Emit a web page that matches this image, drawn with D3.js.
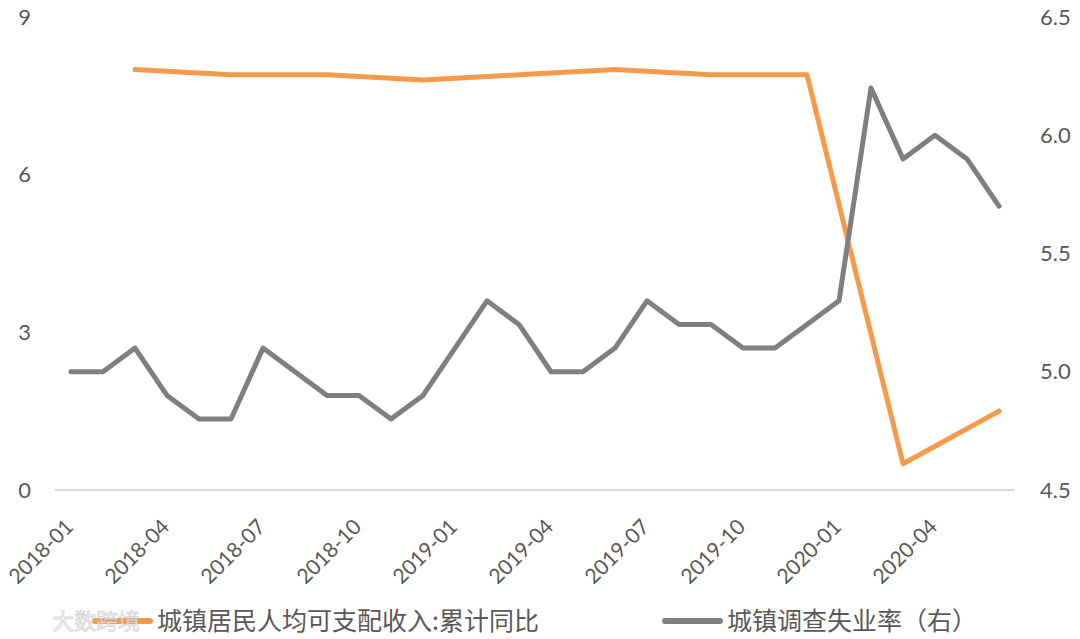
<!DOCTYPE html>
<html>
<head>
<meta charset="utf-8">
<title>城镇居民收入与失业率</title>
<style>
  body { margin: 0; background: #fff; }
  text { font-family: Lato, "Noto Sans CJK SC", sans-serif; fill: #595959; }
  .line { fill: none; stroke-width: 5; stroke-linejoin: round; stroke-linecap: round; }
</style>
<script src="https://d3js.org/d3.v7.min.js"></script>
</head>
<body>
<div id="chart"></div>
<script>
// months 2018-01 .. 2020-06
var months = [
  "2018-01","2018-02","2018-03","2018-04","2018-05","2018-06",
  "2018-07","2018-08","2018-09","2018-10","2018-11","2018-12",
  "2019-01","2019-02","2019-03","2019-04","2019-05","2019-06",
  "2019-07","2019-08","2019-09","2019-10","2019-11","2019-12",
  "2020-01","2020-02","2020-03","2020-04","2020-05","2020-06"
];

// 城镇居民人均可支配收入:累计同比 (quarterly)
var incomeMonths = ["2018-03","2018-06","2018-09","2018-12","2019-03","2019-06","2019-09","2019-12","2020-03","2020-06"];
var incomeValues = [8.0, 7.9, 7.9, 7.8, 7.9, 8.0, 7.9, 7.9, 0.5, 1.5];

// 城镇调查失业率 (right axis)
var unemployment = [
  5.0, 5.0, 5.1, 4.9, 4.8, 4.8,
  5.1, 5.0, 4.9, 4.9, 4.8, 4.9,
  5.1, 5.3, 5.2, 5.0, 5.0, 5.1,
  5.3, 5.2, 5.2, 5.1, 5.1, 5.2,
  5.3, 6.2, 5.9, 6.0, 5.9, 5.7
];

var leftTicks = [0, 3, 6, 9];
var rightTicks = [4.5, 5.0, 5.5, 6.0, 6.5];
var xTickLabels = ["2018-01","2018-04","2018-07","2018-10","2019-01","2019-04","2019-07","2019-10","2020-01","2020-04"];

var seriesNames = ["城镇居民人均可支配收入:累计同比", "城镇调查失业率（右）"];
var colors = ["#f59a4b", "#7f7f7f"];

var width = 1080, height = 639;

var svg = d3.select("#chart").append("svg")
  .attr("width", width)
  .attr("height", height);

var x = d3.scaleBand().domain(months).range([55, 1015]);
var yL = d3.scaleLinear().domain([0, 9]).range([490, 17]);
var yR = d3.scaleLinear().domain([4.5, 6.5]).range([490, 17]);

function cx(m) { return x(m) + x.bandwidth() / 2; }

// baseline axis
svg.append("line")
  .attr("x1", x.range()[0]).attr("x2", x.range()[1])
  .attr("y1", yL(0)).attr("y2", yL(0))
  .attr("stroke", "#d9d9d9").attr("stroke-width", 2);

// left axis labels
var leftAxis = d3.axisLeft(yL).tickValues(leftTicks).tickSize(0).tickPadding(0);
svg.append("g")
  .attr("transform", "translate(31,0)")
  .call(leftAxis)
  .call(function(g) { g.select(".domain").remove(); })
  .selectAll("text")
  .style("font-size", "22px")
  .attr("font-family", null);

// right axis labels
var rightAxis = d3.axisRight(yR).tickValues(rightTicks).tickSize(0).tickPadding(0)
  .tickFormat(d3.format(".1f"));
svg.append("g")
  .attr("transform", "translate(1040,0)")
  .call(rightAxis)
  .call(function(g) { g.select(".domain").remove(); })
  .selectAll("text")
  .style("font-size", "22px")
  .attr("font-family", null);

// x axis labels, rotated
var xAxis = d3.axisBottom(x).tickValues(xTickLabels).tickSize(0).tickPadding(0);
svg.append("g")
  .attr("transform", "translate(0," + (yL(0) + 27) + ")")
  .call(xAxis)
  .call(function(g) { g.select(".domain").remove(); })
  .selectAll("text")
  .style("font-size", "21px")
  .attr("font-family", null)
  .style("text-anchor", "end")
  .attr("dx", "-0.25em")
  .attr("dy", "0.5em")
  .attr("transform", "rotate(-45)");

// income line
var incomeData = incomeMonths.map(function(m, i) { return { m: m, v: incomeValues[i] }; });
var incomeLine = d3.line()
  .x(function(d) { return cx(d.m); })
  .y(function(d) { return yL(d.v); });

svg.append("path")
  .datum(incomeData)
  .attr("class", "line")
  .attr("stroke", colors[0])
  .attr("d", incomeLine);

// unemployment line
var unempLine = d3.line()
  .x(function(d, i) { return cx(months[i]); })
  .y(function(d) { return yR(d); });

svg.append("path")
  .datum(unemployment)
  .attr("class", "line")
  .attr("stroke", colors[1])
  .attr("d", unempLine);

// legend
var legendY = 621;
var legendX = [95, 665];
var legend = svg.selectAll(".legend")
  .data(seriesNames)
  .enter().append("g")
  .attr("class", "legend")
  .attr("transform", function(d, i) { return "translate(" + legendX[i] + "," + legendY + ")"; });

legend.append("line")
  .attr("x1", 0).attr("x2", 55)
  .attr("y1", 0).attr("y2", 0)
  .attr("stroke", function(d, i) { return colors[i]; })
  .attr("stroke-width", 6)
  .attr("stroke-linecap", "round");

legend.append("text")
  .attr("x", 62)
  .attr("y", 0)
  .attr("dy", "0.36em")
  .style("font-family", "'Noto Sans CJK SC', sans-serif")
  .style("font-size", "25px")
  .text(function(d) { return d; });

// watermark
svg.append("text")
  .attr("x", 52)
  .attr("y", 621)
  .attr("dy", "0.36em")
  .style("font-family", "'Noto Sans CJK SC', sans-serif")
  .style("font-size", "22px")
  .style("fill", "#ffffff")
  .style("fill-opacity", 0.75)
  .style("stroke", "#bdbdbd")
  .style("stroke-width", 1)
  .style("stroke-opacity", 0.6)
  .text("大数跨境");
</script>
</body>
</html>
